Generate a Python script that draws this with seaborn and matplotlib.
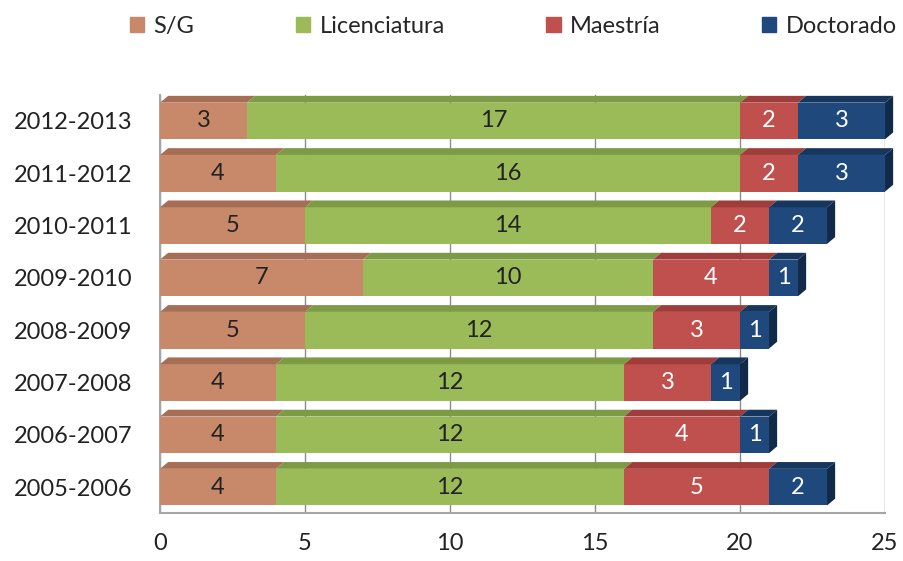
import pandas as pd
import numpy as np
import matplotlib
matplotlib.use("Agg")
import matplotlib.pyplot as plt
from matplotlib.patches import Polygon, Patch
import seaborn as sns

# Data
periods = ["2012-2013", "2011-2012", "2010-2011", "2009-2010",
           "2008-2009", "2007-2008", "2006-2007", "2005-2006"]
sg = [3, 4, 5, 7, 5, 4, 4, 4]
licenciatura = [17, 16, 14, 10, 12, 12, 12, 12]
maestria = [2, 2, 2, 4, 3, 3, 4, 5]
doctorado = [3, 3, 2, 1, 1, 1, 1, 2]

series = ["S/G", "Licenciatura", "Maestría", "Doctorado"]
colors = ["#C8896A", "#9BBB59", "#C0504D", "#1F497D"]
tops = ["#A66E55", "#7D9B44", "#9E3D3A", "#17365D"]
text_colors = ["#222222", "#222222", "white", "white"]

df = pd.DataFrame({"Periodo": periods, "S/G": sg, "Licenciatura": licenciatura,
                   "Maestría": maestria, "Doctorado": doctorado})
cum = df[series].cumsum(axis=1)

sns.set_style("white")
plt.rcParams["font.family"] = ["Lato", "DejaVu Sans"]

fig = plt.figure(figsize=(9.04, 5.61), dpi=100)
ax = fig.add_axes([0.177, 0.085, 0.802, 0.746])

bar_h = 0.7
# draw cumulative totals, largest first so each series sits on top
for s, c in reversed(list(zip(series, colors))):
    sns.barplot(data=cum.assign(Periodo=df["Periodo"]), x=s, y="Periodo",
                color=c, width=bar_h, saturation=1, linewidth=0, ax=ax, zorder=3)

# fake 3D faces
dx, dy = 0.28, 0.13
for i in range(len(periods)):
    left = 0
    for j, s in enumerate(series):
        right = cum.loc[i, s]
        y_top = i - bar_h / 2
        ax.add_patch(Polygon([(left, y_top), (right, y_top),
                              (right + dx, y_top - dy), (left + dx, y_top - dy)],
                             closed=True, color=tops[j], zorder=3, lw=0, clip_on=False))
        val = df.loc[i, s]
        ax.text((left + right) / 2, i, str(val), ha="center", va="center",
                fontsize=17, color=text_colors[j], zorder=5)
        left = right
    ax.add_patch(Polygon([(left, i - bar_h / 2), (left, i + bar_h / 2),
                          (left + dx, i + bar_h / 2 - dy), (left + dx, i - bar_h / 2 - dy)],
                         closed=True, color="#112A48", zorder=3, lw=0, clip_on=False))

ax.set_xlim(0, 25)
ax.set_ylim(7.5, -0.5)
ax.set_xticks([0, 5, 10, 15, 20, 25])
ax.set_xlabel("")
ax.set_ylabel("")
ax.tick_params(axis="x", labelsize=17, pad=14, length=0, colors="#222222")
ax.tick_params(axis="y", labelsize=17, pad=20, length=0, colors="#222222")
ax.xaxis.grid(True, color="#8C8C8C", lw=1, zorder=0)
for side in ["top", "right"]:
    ax.spines[side].set_visible(False)
for side in ["left", "bottom"]:
    ax.spines[side].set_color("#A6A6A6")
    ax.spines[side].set_linewidth(1.5)

handles = [Patch(color=c, label=s) for s, c in zip(series, colors)]
fig.legend(handles=handles, loc="upper center", bbox_to_anchor=(0.568, 1.01),
           ncol=4, frameon=False, fontsize=17, handlelength=0.6, handleheight=0.6,
           handletextpad=0.4, columnspacing=4.3)

fig.savefig("out.png", dpi=100)
